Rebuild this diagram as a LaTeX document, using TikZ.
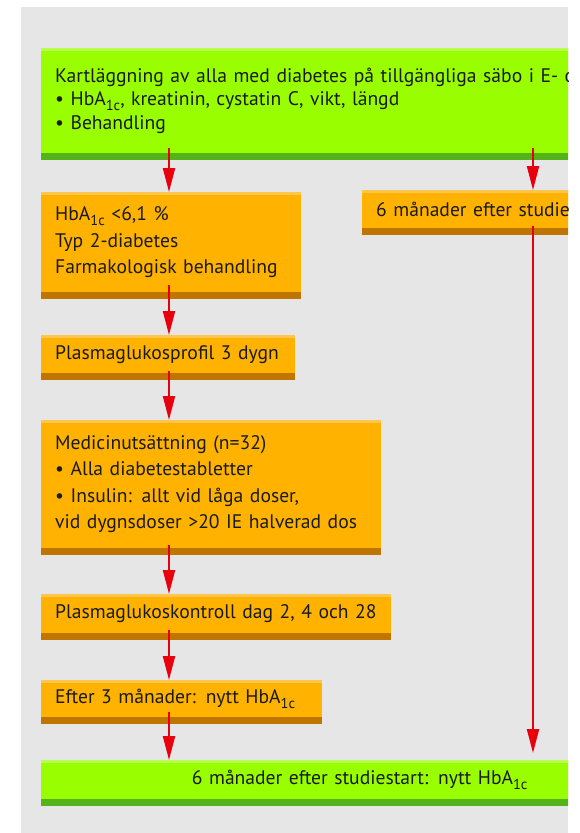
\documentclass[tikz,border=0pt]{standalone}
\usepackage{fontspec}
\setmainfont{PT Sans}
\usepackage{tikz}
\usetikzlibrary{calc,arrows.meta}

\definecolor{panel}{HTML}{E6E6E6}
\definecolor{lime}{HTML}{99FF00}
\definecolor{limetop}{HTML}{B8FF4D}
\definecolor{limebot}{HTML}{55B31A}
\definecolor{amber}{HTML}{FFB300}
\definecolor{ambertop}{HTML}{FFC64D}
\definecolor{amberbot}{HTML}{BF7500}
\definecolor{arrowred}{HTML}{E8000E}
\definecolor{ink}{HTML}{1A1A1A}

\newcommand{\hba}{HbA\raisebox{-5pt}{\fontsize{14.5}{14.5}\selectfont 1c}}

\begin{document}
\begin{tikzpicture}[x=1pt,y=-1pt,
  box/.style={anchor=north west,inner xsep=14pt,inner ysep=0pt,align=left,
    text=ink,font=\fontsize{19.6}{26.5}\selectfont},
  green/.style={box,fill=lime,path picture={
    \fill[limetop] (path picture bounding box.north west) rectangle
      ([yshift=-3pt]path picture bounding box.north east);}},
  orange/.style={box,fill=amber,path picture={
    \fill[ambertop] (path picture bounding box.north west) rectangle
      ([yshift=-3pt]path picture bounding box.north east);}},
  arr/.style={-{Triangle[length=24pt,width=12pt]},draw=arrowred,line width=2pt}]

  \useasboundingbox (0,0) rectangle (580,833);
  \begin{scope}
  \clip (21,7) rectangle (568,833);
  \fill[panel] (21,7) rectangle (568,833);

  \node[green,text width=609pt,minimum height=105pt,
    font=\fontsize{19.6}{23.5}\selectfont] (top) at (41,48)
    {Kartläggning av alla med diabetes på tillgängliga säbo i E- o\\
     \textbullet\ \hba, kreatinin, cystatin C, vikt, längd\\
     \textbullet\ Behandling};
  \node[orange,text width=232pt,minimum height=100pt] (hba) at (41,192)
    {\hba\ <6,1 \%\\ Typ 2-diabetes\\ Farmakologisk behandling};
  \node[orange,text width=288pt,minimum height=38pt] (mon) at (362,190)
    {6 månader efter studie};
  \node[orange,text width=226pt,minimum height=38pt] (prof) at (41,335)
    {Plasmaglukosprofil 3 dygn};
  \node[orange,text width=312pt,minimum height=128pt] (med) at (41,420)
    {Medicinutsättning (n=32)\\
     \textbullet\ Alla diabetestabletter\\
     \textbullet\ Insulin: allt vid låga doser,\\
     vid dygnsdoser >20 IE halverad dos};
  \node[orange,text width=322pt,minimum height=39pt] (kon) at (41,594)
    {Plasmaglukoskontroll dag 2, 4 och 28};
  \node[orange,text width=253pt,minimum height=37pt] (eft) at (41,680)
    {Efter 3 månader: nytt \hba};
  \node[green,text width=609pt,minimum height=39pt,align=center] (bot) at (41,760)
    {6 månader efter studiestart: nytt \hba};

  \foreach \n/\c in {top/limebot,bot/limebot,hba/amberbot,mon/amberbot,
                     prof/amberbot,med/amberbot,kon/amberbot,eft/amberbot}
    \fill[\c] (\n.south west) rectangle ([yshift=-7pt]\n.south east);

  \coordinate (lc) at (169,0);
  \coordinate (rc) at (533,0);

  \draw[arr] ([yshift=5pt]top.south -| lc) -- (hba.north -| lc);
  \draw[arr] ([yshift=5pt]top.south -| rc) -- (mon.north -| rc);
  \draw[arr] ([yshift=7pt]hba.south -| lc) -- (prof.north -| lc);
  \draw[arr] ([yshift=2pt]prof.south -| lc) -- (med.north -| lc);
  \draw[arr] ([yshift=3pt]med.south -| lc) -- (kon.north -| lc);
  \draw[arr] ([yshift=3pt]kon.south -| lc) -- (eft.north -| lc);
  \draw[arr] ([yshift=5pt]eft.south -| lc) -- (bot.north -| lc);
  \draw[arr] ([yshift=2pt]mon.south -| rc) -- ([yshift=7pt]bot.north -| rc);
  \end{scope}
\end{tikzpicture}
\end{document}
